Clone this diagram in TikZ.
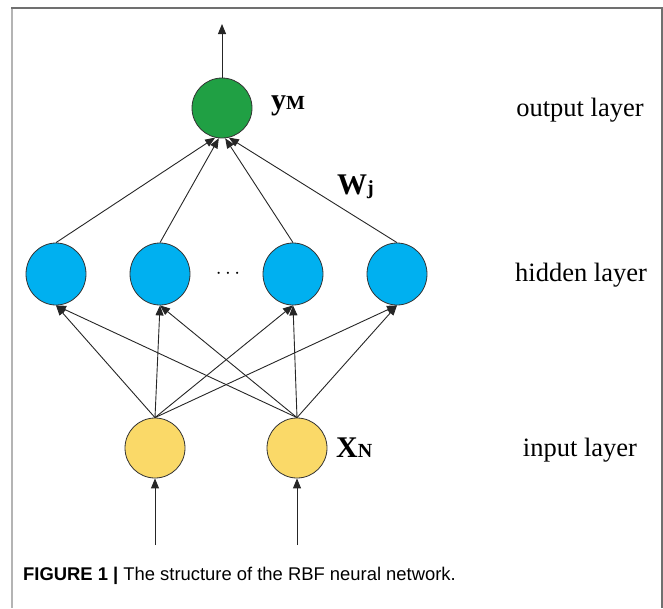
\documentclass[tikz,border=0pt]{standalone}
\usepackage{fontspec}
\setmainfont{Liberation Serif}
\newfontfamily\capfont{Liberation Sans}
\usetikzlibrary{arrows.meta,shapes.geometric}

\definecolor{outgreen}{RGB}{32,160,68}
\definecolor{hidblue}{RGB}{0,176,240}
\definecolor{inyellow}{RGB}{250,217,104}
\definecolor{framedark}{RGB}{112,112,112}
\definecolor{framelight}{RGB}{180,180,180}

\tikzset{
  neuron/.style={draw=black!80, line width=0.8pt, inner sep=0pt},
  outneuron/.style={neuron, circle, fill=outgreen, minimum size=60pt},
  hidneuron/.style={neuron, ellipse, fill=hidblue, minimum width=60pt, minimum height=62pt},
  inneuron/.style={neuron, circle, fill=inyellow, minimum size=60pt},
  link/.style={line width=0.9pt, black!85, -{Triangle[length=10pt,width=8pt]}},
  layerlabel/.style={font=\fontsize{26.5}{28}\selectfont, inner sep=0pt},
  symlabel/.style={font=\fontsize{30}{30}\selectfont\bfseries, inner sep=0pt, anchor=west},
  subfont/.style={font=\fontsize{20}{20}\selectfont\bfseries},
}

\begin{document}
\begin{tikzpicture}[x=1pt, y=-1pt]
  \useasboundingbox (0,0) rectangle (663,608);

  % figure frame
  \draw[framelight, line width=2pt] (12,8) -- (12,608);
  \draw[framedark, line width=2pt] (11,8) -- (661.5,8) -- (661.5,608);

  % neurons
  \node[outneuron] (o) at (222,108) {};
  \node[hidneuron] (h1) at (56,274) {};
  \node[hidneuron] (h2) at (160,274) {};
  \node[hidneuron] (h3) at (293,274) {};
  \node[hidneuron] (h4) at (397,274) {};
  \node[inneuron] (i1) at (155,448) {};
  \node[inneuron] (i2) at (297,448) {};
  \node[font=\fontsize{22}{22}\selectfont, inner sep=0pt] (dots) at (228,274) {$\cdots$};

  % free ends of the input and output arrows
  \coordinate (top) at (222,24);
  \coordinate (in1) at (155,545);
  \coordinate (in2) at (297,545);

  % output connection
  \draw[link] (o.north) -- (top);

  % hidden to output
  \draw[link] (h1.north) -- (o.-103);
  \draw[link] (h2.north) -- (o.-96);
  \draw[link] (h3.north) -- (o.-84);
  \draw[link] (h4.north) -- (o.-77);

  % input to hidden
  \foreach \i in {i1,i2}{
    \foreach \h in {h1,h2,h3,h4}{
      \draw[link] (\i.north) -- (\h.south);
    }
  }

  % external inputs
  \draw[link] (in1) -- (i1.south);
  \draw[link] (in2) -- (i2.south);

  % symbols
  \node[symlabel] (ylab) at (271,106) {y\fontsize{20}{20}\selectfont M};
  \node[symlabel] (xlab) at (336,448) {X\fontsize{20}{20}\selectfont N};
  \node[symlabel] (wlab) at (337,187) {W\fontsize{20}{20}\selectfont j};

  % layer names
  \node[layerlabel] (lo) at (580,110) {output layer};
  \node[layerlabel] (lh) at (581,275) {hidden layer};
  \node[layerlabel] (li) at (580,450) {input layer};

  % caption
  \node[anchor=base west, inner sep=0pt, font=\capfont\fontsize{18.4}{20}\selectfont] (cap) at (23,580)
    {\textbf{FIGURE 1 |} The structure of the RBF neural network.};
\end{tikzpicture}
\end{document}
